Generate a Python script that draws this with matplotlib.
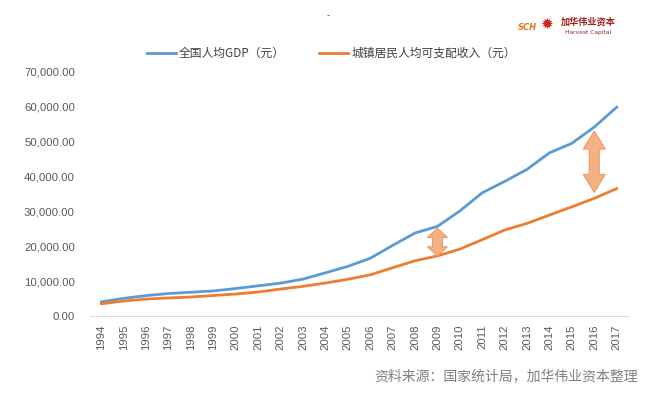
import matplotlib
matplotlib.use('Agg')
import matplotlib.pyplot as plt
from matplotlib.patches import Polygon
from matplotlib.ticker import FuncFormatter

plt.rcParams['font.family'] = ['Liberation Sans', 'Noto Sans CJK SC', 'DejaVu Sans']

# 数据
years = [str(y) for y in range(1994, 2018)]
gdp = [4044, 5046, 5846, 6420, 6796, 7159, 7858, 8622, 9398, 10542, 12336, 14185,
       16500, 20169, 23708, 25608, 30015, 35198, 38459, 41908, 46629, 49351, 53980, 59660]
income = [3496, 4283, 4839, 5160, 5425, 5854, 6280, 6860, 7703, 8472, 9422, 10493,
          11759, 13786, 15781, 17175, 19109, 21810, 24565, 26467, 28844, 31195, 33616, 36396]
arrow_years = ['2009', '2016']

blue = '#5B9BD5'
orange = '#ED7D31'

fig = plt.figure(figsize=(6.63, 3.99), dpi=100)
ax = fig.add_axes([0.136, 0.208, 0.811, 0.614])

x = range(len(years))
ax.plot(x, gdp, color=blue, lw=2.0, label='全国人均GDP（元）')
ax.plot(x, income, color=orange, lw=2.0, label='城镇居民人均可支配收入（元）')

ax.set_xlim(-0.5, len(years) - 0.5)
ax.set_ylim(0, 70000)
ax.set_yticks(range(0, 70001, 10000))
ax.yaxis.set_major_formatter(FuncFormatter(lambda v, p: f'{v:,.2f}'))
ax.set_xticks(list(x))
ax.set_xticklabels(years, rotation=90)
ax.tick_params(axis='both', length=0, labelsize=8.2, colors='#595959')
ax.tick_params(axis='y', pad=11)
ax.tick_params(axis='x', pad=6)
for s in ['top', 'right', 'left']:
    ax.spines[s].set_visible(False)
ax.spines['bottom'].set_color('#D9D9D9')

leg = fig.legend(loc='center', bbox_to_anchor=(0.5, 0.866), ncol=2, frameon=False,
                 handlelength=2.4, handletextpad=0.3, columnspacing=2.9,
                 prop={'family': ['Noto Sans CJK SC'], 'size': 8.5})
for t in leg.get_texts():
    t.set_color('#404040')

# 双向箭头
fig.canvas.draw()
for yr in arrow_years:
    i = years.index(yr)
    top = ax.transData.transform((i, gdp[i]))
    bot = ax.transData.transform((i, income[i]))
    cx = top[0]
    big = (top[1] - bot[1]) > 40
    y1 = top[1] - (4 if big else 2)
    y0 = bot[1] + (6 if big else 0)
    h = y1 - y0
    hl = min(18, h * 0.33)
    hw = 11 if big else 10
    sw = 5
    verts = [(cx, y1), (cx + hw, y1 - hl), (cx + sw, y1 - hl), (cx + sw, y0 + hl),
             (cx + hw, y0 + hl), (cx, y0), (cx - hw, y0 + hl), (cx - sw, y0 + hl),
             (cx - sw, y1 - hl), (cx - hw, y1 - hl)]
    fig.patches.append(Polygon(verts, closed=True, transform=None, fc='#F4B183',
                               ec='#EE9A66', lw=0.8, zorder=5))

# 顶部标识
fig.text(0.495, 0.962, '-', fontsize=7, color='#555555', ha='center', va='center')
fig.text(0.795, 0.932, 'SCH', fontsize=6, color='#E8731F', style='italic',
         fontweight='bold', ha='center', va='center', family=['DejaVu Sans'])
fig.text(0.824, 0.94, '✹', fontsize=11, color='#C8281E', ha='center', va='center',
         family=['DejaVu Sans'])
fig.text(0.887, 0.945, '加华伟业资本', fontsize=6.6, color='#A0201A', fontweight='bold',
         ha='center', va='center', family=['Noto Sans CJK SC'])
fig.text(0.887, 0.918, 'Harvest Capital', fontsize=4.3, color='#A0201A',
         ha='center', va='center', family=['DejaVu Sans'])

# 来源
fig.text(0.962, 0.058, '资料来源：国家统计局，加华伟业资本整理', fontsize=10,
         color='#808080', ha='right', va='center', family=['Noto Sans CJK SC'])

fig.savefig('out.png', dpi=100)
